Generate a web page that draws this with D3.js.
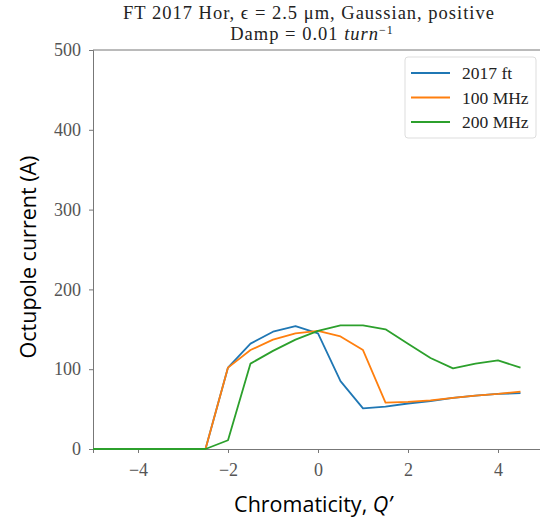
<!DOCTYPE html>
<html>
<head>
<meta charset="utf-8">
<script src="https://cdn.jsdelivr.net/npm/d3@7"></script>
<style>
  body { margin: 0; background: #fff; }
  svg { display: block; }
  .tick text { font-family: "Liberation Serif", "DejaVu Serif", serif; font-size: 18px; fill: #555; }
  .tick line, .domain { stroke: #777; }
</style>
</head>
<body>
<div class="ChartWrapper"></div>
<script>
// chromaticity grid
const chroma = [-5, -4.5, -4, -3.5, -3, -2.5, -2, -1.5, -1, -0.5, 0, 0.5, 1, 1.5, 2, 2.5, 3, 3.5, 4, 4.5];
const ft2017 = [0, 0, 0, 0, 0, 0, 102, 132, 147, 154, 145, 85, 51, 53, 57, 60, 64, 67, 69, 70];
const mhz100 = [0, 0, 0, 0, 0, 0, 102, 124, 137, 145, 148, 141, 124, 58, 59, 61, 64, 67, 69, 72];
const mhz200 = [0, 0, 0, 0, 0, 0, 11, 107, 123, 137, 148, 155, 155, 150, 132, 114, 101, 107, 111, 102];
const seriesNames = ['2017 ft', '100 MHz', '200 MHz'];
const seriesColors = ['#1f77b4', '#ff7f0e', '#2ca02c'];
const xTicks = [-4, -2, 0, 2, 4];
const yTicks = [0, 100, 200, 300, 400, 500];

const W = 540, H = 519;
const M = {left: 93, top: 50, bottom: 449};

const svg = d3.select('.ChartWrapper')
  .append('svg')
  .attr('width', W)
  .attr('height', H);

const x = d3.scaleLinear().domain([-5, 5]).range([M.left, M.left + 450]);
const y = d3.scaleLinear().domain([0, 500]).range([M.bottom, M.top]);

// top spine (right one falls off the picture)
svg.append('line')
  .attr('x1', M.left).attr('x2', W)
  .attr('y1', M.top).attr('y2', M.top)
  .attr('stroke', '#777');

svg.append('g')
  .attr('transform', `translate(0,${M.bottom})`)
  .call(d3.axisBottom(x).tickValues(xTicks).tickSize(4).tickPadding(10)
    .tickFormat(d => d < 0 ? '\u2212' + Math.abs(d) : d));

svg.append('g')
  .attr('transform', `translate(${M.left},0)`)
  .call(d3.axisLeft(y).tickValues(yTicks).tickSize(4).tickPadding(8));

svg.selectAll('.domain').attr('stroke', '#777');

const line = d3.line()
  .x((d, i) => x(chroma[i]))
  .y(d => y(d));

[ft2017, mhz100, mhz200].forEach((vals, k) => {
  svg.append('path')
    .datum(vals)
    .attr('d', line)
    .attr('fill', 'none')
    .attr('stroke', seriesColors[k])
    .attr('stroke-width', 1.8)
    .attr('stroke-linejoin', 'round');
});

// legend
const legend = svg.append('g').attr('transform', 'translate(405,57)');
legend.append('rect')
  .attr('width', 131).attr('height', 81)
  .attr('rx', 3)
  .attr('fill', '#fff')
  .attr('stroke', '#ddd');
seriesNames.forEach((name, k) => {
  const ly = 16 + k * 24.5;
  legend.append('line')
    .attr('x1', 6).attr('x2', 45)
    .attr('y1', ly).attr('y2', ly)
    .attr('stroke', seriesColors[k])
    .attr('stroke-width', 1.8);
  legend.append('text')
    .attr('x', 57).attr('y', ly + 6)
    .attr('font-family', '"Liberation Serif", serif')
    .attr('font-size', 17.5)
    .attr('fill', '#222')
    .text(name);
});

// title, two lines
const titleFont = (sel) => sel
  .attr('text-anchor', 'middle')
  .attr('font-family', '"Liberation Serif", serif')
  .attr('font-size', 18.5)
  .attr('letter-spacing', 1)
  .attr('fill', '#222');
svg.append('text').call(titleFont)
  .attr('x', 309).attr('y', 19)
  .text('FT 2017 Hor, \u03f5 = 2.5 \u03bcm, Gaussian, positive');
const t2 = svg.append('text').call(titleFont)
  .attr('x', 312).attr('y', 39.5);
t2.append('tspan').text('Damp = 0.01 ');
t2.append('tspan').attr('font-style', 'italic').text('turn');
t2.append('tspan').attr('dy', -6).attr('font-size', 12).text('\u22121');

// axis labels
const xl = svg.append('text')
  .attr('x', 313).attr('y', 512)
  .attr('text-anchor', 'middle')
  .attr('font-family', '"Open Sans", "Noto Sans", sans-serif')
  .attr('font-size', 21.5)
  .attr('fill', '#000');
xl.append('tspan').text('Chromaticity, ');
xl.append('tspan').attr('font-style', 'italic').text('Q\u2019');

svg.append('text')
  .attr('transform', 'translate(36,257) rotate(-90)')
  .attr('text-anchor', 'middle')
  .attr('font-family', '"Open Sans", "Noto Sans", sans-serif')
  .attr('font-size', 21.5)
  .attr('fill', '#000')
  .text('Octupole current (A)');
</script>
</body>
</html>
